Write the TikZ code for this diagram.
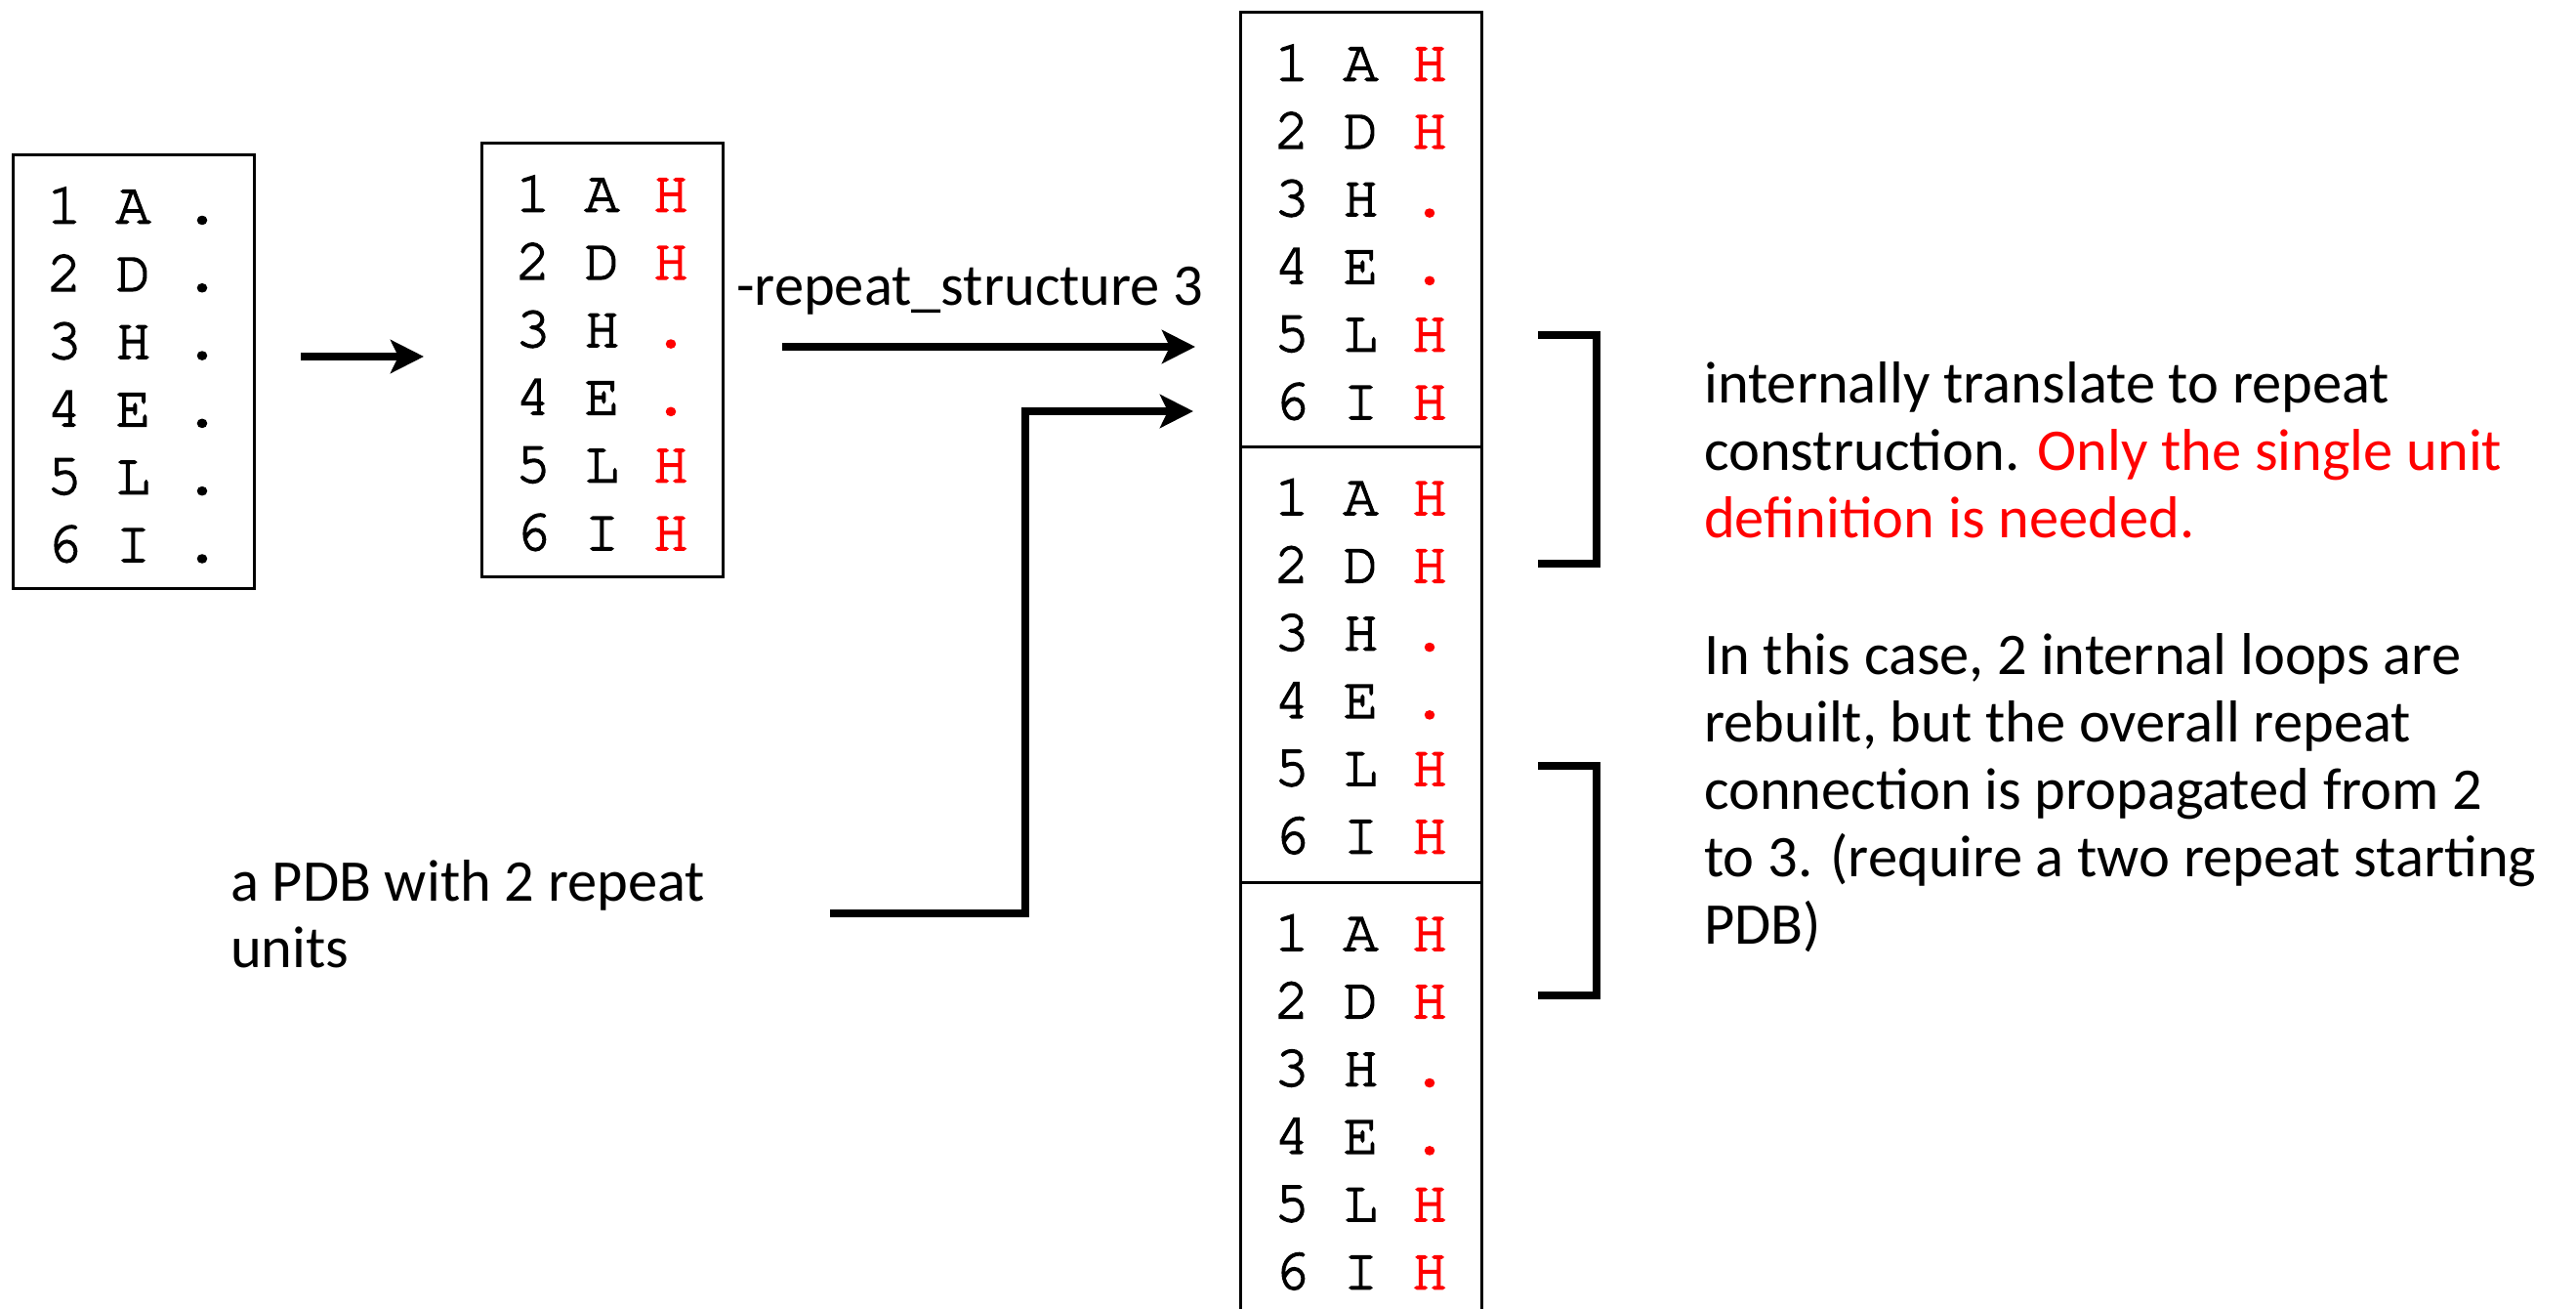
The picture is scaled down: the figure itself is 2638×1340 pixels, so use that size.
\documentclass[tikz,border=0pt]{standalone}
\usepackage{fontspec}
\usetikzlibrary{arrows.meta}
\setmainfont{Carlito}
\newfontfamily\monof[FakeBold=2.5]{TeX Gyre Cursor}
\definecolor{hred}{RGB}{255,0,0}
\tikzset{
  boxst/.style={draw, line width=3pt, inner sep=0pt, minimum width=247pt, minimum height=443pt},
  seq/.style={font=\monof\fontsize{60}{69}\selectfont, inner sep=0pt, anchor=base},
  lbl/.style={font=\fontsize{60.5}{69}\selectfont, inner sep=0pt, anchor=base west},
  arr/.style={line width=8pt, line join=miter, -{Stealth[length=34pt,width=34pt,inset=8pt]}},
  brk/.style={line width=8pt, line join=miter},
}
\def\listA{1/A/.,2/D/.,3/H/.,4/E/.,5/L/.,6/I/.}
\def\listB{1/A/H,2/D/H,3/H/.,4/E/.,5/L/H,6/I/H}
% #1 prefix, #2 centre x, #3 first baseline y, #4 colour of 3rd column, #5 list
\newcommand\seqrows[5]{%
  \foreach \d/\l/\t [count=\i from 0] in #5 {%
    \node[seq] (#1n\i) at ({#2-70.5},{#3+\i*69.3}) {\d};
    \node[seq] (#1l\i) at ({#2},{#3+\i*69.3}) {\l};
    \node[seq, text=#4] (#1t\i) at ({#2+70.5},{#3+\i*69.3}) {\t};
  }%
}
\begin{document}
\begin{tikzpicture}[x=1pt,y=-1pt]
\useasboundingbox (0,0) rectangle (2638,1340);
\fill[white] (0,0) rectangle (2638,1340);

% left boxes
\node[boxst] (box1) at (136.5,380.5) {};
\node[boxst] (box2) at (616.5,368.5) {};
\seqrows{bA}{136.5}{228.5}{black}{\listA}
\seqrows{bB}{616.5}{216.5}{hred}{\listB}

% big column
\node[boxst, minimum height=444pt] (sec1) at (1393.5,235) {};
\node[boxst, minimum height=446pt] (sec2) at (1393.5,680) {};
\node[boxst, minimum height=444pt] (sec3) at (1393.5,1125) {};
\seqrows{sA}{1393.5}{82.5}{hred}{\listB}
\seqrows{sB}{1393.5}{527}{hred}{\listB}
\seqrows{sC}{1393.5}{973}{hred}{\listB}

% arrows
\coordinate (a1s) at (308,365);
\coordinate (a1e) at (434,365);
\draw[arr] (a1s) -- (a1e);

\coordinate (a2s) at (801,355);
\coordinate (a2e) at (1224,355);
\draw[arr] (a2s) -- (a2e);
\node[lbl] (rslabel) at (754,312) {-repeat\_structure 3};

\coordinate (a3s) at (850,935);
\coordinate (a3m) at (1050,421);
\coordinate (a3e) at (1222,421);
\draw[arr] (a3s) -| (a3m) -- (a3e);
\node[lbl] (pdb1) at (236,922) {a PDB with 2 repeat};
\node[lbl] (pdb2) at (236,990) {units};

% brackets
\draw[brk] (1575,343) -- (1635,343) -- (1635,577) -- (1575,577);
\draw[brk] (1575,784) -- (1635,784) -- (1635,1019) -- (1575,1019);

% right text
\node[lbl] (t1) at (1745,412) {internally translate to repeat};
\node[lbl] (t2) at (1745,481) {construction. \textcolor{hred}{Only the single unit}};
\node[lbl, text=hred] (t3) at (1745,550) {definition is needed.};
\node[lbl] (u1) at (1745,690) {In this case, 2 internal loops are};
\node[lbl] (u2) at (1745,759) {rebuilt, but the overall repeat};
\node[lbl] (u3) at (1745,828) {connection is propagated from 2};
\node[lbl] (u4) at (1745,897) {to 3. (require a two repeat starting};
\node[lbl] (u5) at (1745,966) {PDB)};
\end{tikzpicture}
\end{document}
